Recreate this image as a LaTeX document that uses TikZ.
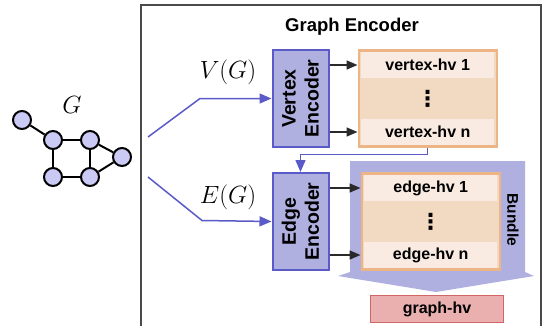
\documentclass[tikz,border=0pt]{standalone}
\usepackage{fontspec}
\setsansfont{Liberation Sans}
\newfontfamily\dotsfont{DejaVu Sans}
\usetikzlibrary{positioning,arrows.meta}
\definecolor{encfill}{HTML}{AFAFE0}
\definecolor{encline}{HTML}{5A5AC8}
\definecolor{hvline}{HTML}{EDB585}
\definecolor{hvfill}{HTML}{F2D9C1}
\definecolor{rowfill}{HTML}{F9EBE2}
\definecolor{outfill}{HTML}{EAB0B0}
\definecolor{outline}{HTML}{D26565}
\definecolor{vtxfill}{HTML}{CACAF5}
\definecolor{framegray}{HTML}{4A4A4A}
\definecolor{arrowgray}{HTML}{2A2A2A}

\begin{document}
\begin{tikzpicture}[
        x=1pt, y=-1pt,
        vtx/.style={
            draw,
            circle,
            line width=2pt,
            fill=vtxfill,
            minimum size=18pt,
            inner sep=0pt,
          },
        enc/.style={
            draw=encline,
            fill=encfill,
            line width=2pt,
            minimum width=56pt,
            minimum height=97pt,
            inner sep=0pt,
          },
        enctext/.style={
            rotate=90,
            align=center,
            font=\fontsize{19.5}{23}\selectfont\sffamily\bfseries,
          },
        hvbox/.style={
            draw=hvline,
            fill=hvfill,
            line width=2.4pt,
            minimum width=138pt,
            minimum height=96pt,
            inner sep=0pt,
          },
        hvrow/.style={
            fill=rowfill,
            minimum width=133pt,
            minimum height=26pt,
            inner sep=0pt,
            font=\fontsize{16}{19}\selectfont\sffamily\bfseries,
          },
        dotsrow/.style={
            inner sep=0pt,
            font=\fontsize{22}{22}\selectfont\dotsfont\bfseries,
          },
        feed/.style={
            draw=encline,
            line width=1.5pt,
            -{Triangle[length=12pt,width=10pt]},
          },
        hvarrow/.style={
            draw=arrowgray,
            line width=1.6pt,
            -{Triangle[length=11pt,width=9pt]},
          },
        mathlabel/.style={
            font=\fontsize{24}{28}\selectfont,
          },
      ]
      \useasboundingbox (0,0) rectangle (547,325);

      % frame of the encoder
      \draw[framegray, line width=1.6pt] (141,326) -- (141,5) -- (541,5) -- (541,326);
      \node [
        font=\fontsize{18.5}{22}\selectfont\sffamily\bfseries
      ] (title) at (352,27) {Graph Encoder};

      % the input graph
      \node [mathlabel] (glabel) at (72,105) {$G$};
      \node [vtx] (g1) at (22,120) {};
      \node [vtx] (g2) at (53,140) {};
      \node [vtx] (g3) at (90,140) {};
      \node [vtx] (g4) at (122,157) {};
      \node [vtx] (g5) at (53,177) {};
      \node [vtx] (g6) at (90,177) {};
      \begin{scope}[line width=2pt]
        \draw (g1) -- (g2);
        \draw (g2) -- (g3);
        \draw (g2) -- (g5);
        \draw (g3) -- (g6);
        \draw (g5) -- (g6);
        \draw (g3) -- (g4);
        \draw (g6) -- (g4);
      \end{scope}

      % encoders
      \node [enc] (venc) at (300.5,98.5) {};
      \node [enctext] at (venc.center) {Vertex\\Encoder};
      \node [
        enc,
        below=24pt of venc
      ] (eenc) {};
      \node [enctext] at (eenc.center) {Edge\\Encoder};

      % bundle arrow
      \fill[encfill] (350,161) -- (525,161) -- (525,272) -- (534,276)
        -- (436,292) -- (338,276) -- (350,272) -- cycle;
      \node [
        rotate=-90,
        font=\fontsize{15.5}{18}\selectfont\sffamily\bfseries
      ] (bundle) at (513,220) {Bundle};

      % hypervectors
      \node [
        hvbox,
        right=28pt of venc
      ] (vbox) {};
      \node [
        hvrow,
        below=2.5pt of vbox.north
      ] (vrow1) {vertex-hv 1};
      \node [
        hvrow,
        above=2.5pt of vbox.south
      ] (vrown) {vertex-hv n};
      \node [dotsrow] (vdots) at (vbox.center) {⋮};

      \node [
        hvbox,
        right=31pt of eenc
      ] (ebox) {};
      \node [
        hvrow,
        below=2.5pt of ebox.north
      ] (erow1) {edge-hv 1};
      \node [
        hvrow,
        above=2.5pt of ebox.south
      ] (erown) {edge-hv n};
      \node [dotsrow] (edots) at (ebox.center) {⋮};

      \node [
        draw=outline,
        fill=outfill,
        line width=1.8pt,
        minimum width=133pt,
        minimum height=27pt,
        inner sep=0pt,
        font=\fontsize{16}{19}\selectfont\sffamily\bfseries
      ] (ghv) at (437,309) {graph-hv};

      % inputs
      \coordinate (vin) at (148,137);
      \coordinate (ein) at (148,177);
      \node [mathlabel] (vlabel) at (228,72) {$V(G)$};
      \node [mathlabel] (elabel) at (228,197) {$E(G)$};
      \draw[feed] (vin) -- (200,98.5) -- (venc.west);
      \draw[feed] (ein) -- (202,220.5) -- (eenc.west);
      \draw[feed] (vbox.south) -- ++(0,7) -| (eenc.north);

      \draw[hvarrow] (venc.east |- vrow1) -- (vbox.west |- vrow1);
      \draw[hvarrow] (venc.east |- vrown) -- (vbox.west |- vrown);
      \draw[hvarrow] (eenc.east |- erow1) -- (ebox.west |- erow1);
      \draw[hvarrow] (eenc.east |- erown) -- (ebox.west |- erown);
    \end{tikzpicture}
\end{document}
